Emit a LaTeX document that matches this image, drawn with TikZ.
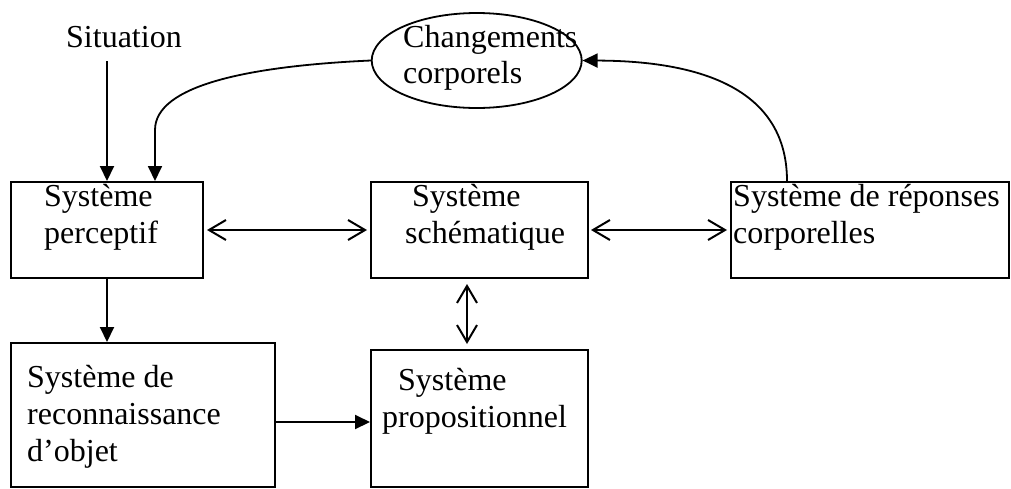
\documentclass[tikz,border=0pt]{standalone}
\usepackage{fontspec}
\setmainfont{Liberation Serif}
\usetikzlibrary{arrows.meta,shapes.geometric}
\begin{document}
\begin{tikzpicture}[x=1pt,y=-1pt,
  box/.style={draw,line width=2pt,rectangle,inner sep=0pt},
  txt/.style={anchor=base west,inner sep=0pt,font=\fontsize{32}{37}\selectfont},
  fillarrow/.style={line width=2pt,-{Triangle[length=15pt,width=14pt]}},
  curvearrow/.style={line width=1.8pt,-{Triangle[length=15pt,width=14pt]}},
  dblarrow/.style={line width=2pt,{Straight Barb[length=17pt,width=20pt,line width=2pt]}-{Straight Barb[length=17pt,width=20pt,line width=2pt]}}
]
\useasboundingbox (0,0) rectangle (1011,488);
\fill[white] (0,0) rectangle (1011,488);

% boxes
\node[box,minimum width=192pt,minimum height=96pt] (perc) at (107,230) {};
\node[box,minimum width=217pt,minimum height=96pt] (sche) at (479.5,230) {};
\node[box,minimum width=278pt,minimum height=96pt] (repo) at (870,230) {};
\node[box,minimum width=264pt,minimum height=144pt] (reco) at (143,415) {};
\node[box,minimum width=217pt,minimum height=137pt] (prop) at (479.5,418.5) {};
\node[draw,ellipse,line width=1.8pt,inner sep=0pt,minimum width=210pt,minimum height=95pt] (ell) at (476.7,60.5) {};

% texts
\node[txt] (tsit) at (66,47) {Situation};
\node[txt] (tch1) at (403,47) {Changements};
\node[txt] (tch2) at (403,83) {corporels};
\node[txt] (tpe1) at (44,206) {Système};
\node[txt] (tpe2) at (44,243) {perceptif};
\node[txt] (tsc1) at (412,206) {Système};
\node[txt] (tsc2) at (405,243) {schématique};
\node[txt] (tre1) at (733,206) {Système de réponses};
\node[txt] (tre2) at (733,243) {corporelles};
\node[txt] (tro1) at (27,387) {Système de};
\node[txt] (tro2) at (27,424) {reconnaissance};
\node[txt] (tro3) at (27,461) {d’objet};
\node[txt] (tpr1) at (398,390) {Système};
\node[txt] (tpr2) at (382,427) {propositionnel};

% helper coordinates
\coordinate (s0) at (107,61);
\coordinate (c155) at (155,0);
\coordinate (c787) at (787,0);
\coordinate (c467) at (467,0);
\coordinate (c422) at (0,422);

% connectors
\draw[fillarrow] (s0) -- (perc.north);
\draw[curvearrow] (ell.west) .. controls (250,66) and (155,85) .. (155,130) -- (perc.north -| c155);
\draw[curvearrow] (repo.north -| c787) .. controls (787,100) and (720,61) .. (ell.east);
\draw[dblarrow,shorten <=3pt,shorten >=3pt] (perc.east) -- (sche.west);
\draw[dblarrow,shorten <=2pt,shorten >=3pt] (sche.east) -- (repo.west);
\draw[dblarrow,shorten <=5pt,shorten >=5pt] (sche.south -| c467) -- (prop.north -| c467);
\draw[fillarrow] (perc.south) -- (perc.south |- reco.north);
\draw[fillarrow] (reco.east |- c422) -- (prop.west |- c422);
\end{tikzpicture}
\end{document}
